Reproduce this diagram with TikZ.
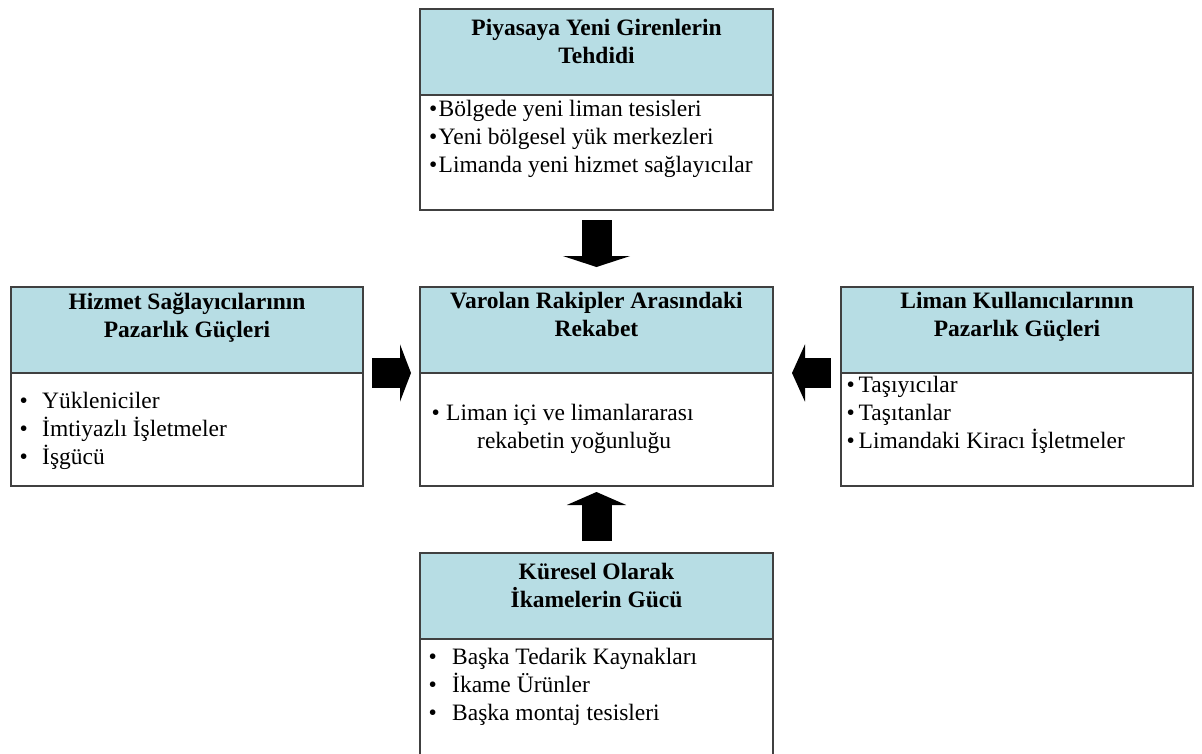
\documentclass[tikz,border=0pt]{standalone}
\usepackage{fontspec}
\setmainfont{Liberation Serif}
\usetikzlibrary{arrows.meta,positioning}

\definecolor{headerblue}{RGB}{183,221,228}
\definecolor{boxgray}{RGB}{64,64,64}
\newcommand{\imadde}[1]{\makebox[#1][l]{\textbullet}}

\begin{document}
\begin{tikzpicture}[
    x=1pt, y=-1pt,
    header node/.style={draw=boxgray,line width=1.3pt,fill=headerblue,minimum width=353pt,
      minimum height=86pt,inner sep=0pt,outer sep=0pt,anchor=north west},
    body node/.style={header node,fill=white,minimum height=113pt},
    title text/.style={font=\fontsize{23.5}{28}\selectfont\bfseries,align=center,inner sep=0pt,
      execute at begin node=\strut},
    item text/.style={font=\fontsize{23.5}{28}\selectfont,align=left,inner sep=0pt,
      execute at begin node=\strut},
    force arrow/.style={draw=black,line width=30pt}]

  \useasboundingbox (0,0) rectangle (1202,753);
  \fill[white] (0,0) rectangle (1202,753);

  % boxes
  \node[header node] (yeni-b) at (420,9) {};
  \node[body node,minimum height=115pt] (yeni-i) [below=0pt of yeni-b] {};
  \node[header node,minimum width=352pt] (hizmet-b) at (11,287) {};
  \node[body node,minimum width=352pt] (hizmet-i) [below=0pt of hizmet-b] {};
  \node[header node] (rekabet-b) at (420,287) {};
  \node[body node] (rekabet-i) [below=0pt of rekabet-b] {};
  \node[header node,minimum width=352pt] (kullanici-b) at (841,287) {};
  \node[body node,minimum width=352pt] (kullanici-i) [below=0pt of kullanici-b] {};
  \node[header node] (ikame-b) at (420,553) {};
  \node[body node,minimum height=130pt] (ikame-i) [below=0pt of ikame-b] {};

  % titles
  \node[title text,below=10.4pt of yeni-b.north] (yeni-t) {Piyasaya Yeni Girenlerin\\Tehdidi};
  \node[title text,below=5.4pt of hizmet-b.north] (hizmet-t) {Hizmet Sağlayıcılarının\\Pazarlık Güçleri};
  \node[title text,below=5.4pt of rekabet-b.north] (rekabet-t) {Varolan Rakipler Arasındaki\\Rekabet};
  \node[title text,below=5.4pt of kullanici-b.north] (kullanici-t) {Liman Kullanıcılarının\\Pazarlık Güçleri};
  \node[title text,below=10.4pt of ikame-b.north] (ikame-t) {Küresel Olarak\\İkamelerin Gücü};

  % items
  \node[item text,below right=5.4pt and 9pt of yeni-i.north west] (yeni-m)
    {\imadde{9.5pt}Bölgede yeni liman tesisleri\\
     \imadde{9.5pt}Yeni bölgesel yük merkezleri\\
     \imadde{9.5pt}Limanda yeni hizmet sağlayıcılar};
  \node[item text,below right=19.4pt and 8.5pt of hizmet-i.north west] (hizmet-m)
    {\imadde{22.5pt}Yükleniciler\\
     \imadde{22.5pt}İmtiyazlı İşletmeler\\
     \imadde{22.5pt}İşgücü};
  \node[item text,below right=31.4pt and 11.5pt of rekabet-i.north west] (rekabet-m)
    {\imadde{14.5pt}Liman içi ve limanlararası\\
     \hspace*{45.5pt}rekabetin yoğunluğu};
  \node[item text,below right=3.4pt and 5.5pt of kullanici-i.north west] (kullanici-m)
    {\imadde{12pt}Taşıyıcılar\\
     \imadde{12pt}Taşıtanlar\\
     \imadde{12pt}Limandaki Kiracı İşletmeler};
  \node[item text,below right=9.4pt and 8.5pt of ikame-i.north west] (ikame-m)
    {\imadde{23.5pt}Başka Tedarik Kaynakları\\
     \imadde{23.5pt}İkame Ürünler\\
     \imadde{23.5pt}Başka montaj tesisleri};

  % forces
  \draw[force arrow,-{Triangle[length=11pt,width=67pt]},shorten <=10pt,shorten >=20pt]
    (yeni-i.south) -- (rekabet-b.north);
  \draw[force arrow,-{Triangle[length=11pt,width=57pt]},shorten <=9pt,shorten >=9pt]
    (hizmet-b.south east) -- (rekabet-b.south west);
  \draw[force arrow,-{Triangle[length=13pt,width=57pt]},shorten <=10pt,shorten >=19pt]
    (kullanici-b.south west) -- (rekabet-b.south east);
  \draw[force arrow,-{Triangle[length=13pt,width=59pt]},shorten <=12pt,shorten >=6pt]
    (ikame-b.north) -- (rekabet-i.south);
\end{tikzpicture}
\end{document}
